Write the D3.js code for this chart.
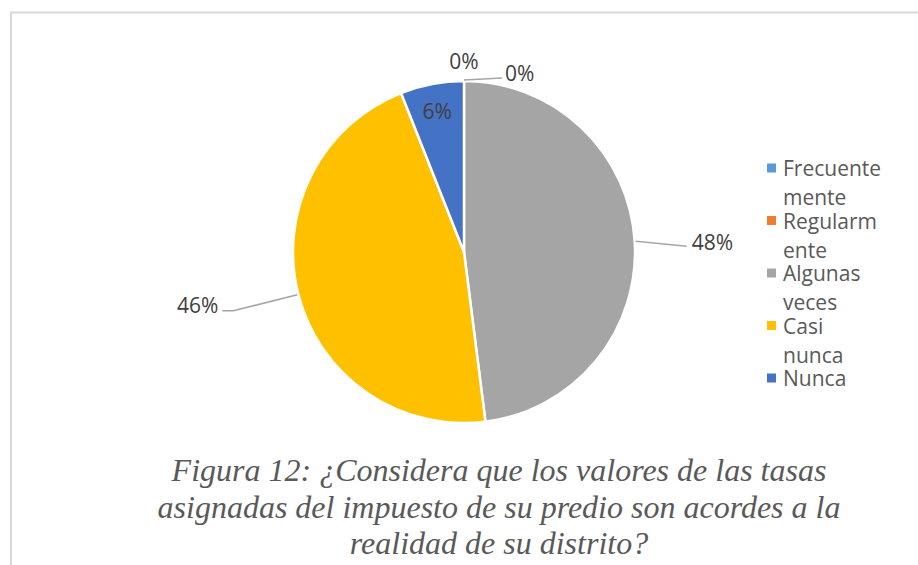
<!DOCTYPE html>
<html lang="es">
<head>
<meta charset="UTF-8">
<title>Figura 12</title>
<script src="https://cdn.jsdelivr.net/npm/d3@7"></script>
<style>
  body { margin: 0; background: #fff; }
</style>
</head>
<body>
<svg id="chart" width="918" height="565" xmlns="http://www.w3.org/2000/svg"></svg>
<script>
// datos
const categorias = ["Frecuentemente", "Regularmente", "Algunas veces", "Casi nunca", "Nunca"];
const valores = [0, 0, 48, 46, 6];
const leyendaLineas = [["Frecuente", "mente"], ["Regularm", "ente"], ["Algunas", "veces"], ["Casi", "nunca"], ["Nunca"]];
const colores = ["#5B9BD5", "#ED7D31", "#A5A5A5", "#FFC000", "#4472C4"];
const titulo = [
  "Figura 12: ¿Considera que los valores de las tasas",
  "asignadas del impuesto de su predio son acordes a la",
  "realidad de su distrito?"
];

const svg = d3.select("#chart");

// marco del gráfico
svg.append("path")
  .attr("d", "M11,565 V12.5 H918")
  .attr("fill", "none")
  .attr("stroke", "#d9d9d9")
  .attr("stroke-width", 2);

const cx = 464, cy = 252, r = 171;
const g = svg.append("g").attr("transform", `translate(${cx},${cy})`);

const pie = d3.pie().sort(null).value(d => d);
const arcs = pie(valores);
const arc = d3.arc().innerRadius(0).outerRadius(r);

g.selectAll("path.slice")
  .data(arcs)
  .enter().append("path")
  .attr("class", "slice")
  .attr("d", arc)
  .attr("fill", (d, i) => colores[i])
  .attr("stroke", "#fff")
  .attr("stroke-width", 2.5);

// etiquetas: desplazamiento del texto respecto al borde de la porción
const total = d3.sum(valores);
const etiquetas = [
  { tipo: "fuera", dx: 0, dy: -19, linea: false, anchor: "middle" },
  { tipo: "fuera", dx: 41, dy: -7, linea: [[0, 0], [38, -2]], anchor: "start" },
  { tipo: "fuera", dx: 56, dy: 1, linea: [[0, 0], [51, 5]], anchor: "start" },
  { tipo: "fuera", dx: -79, dy: 10, linea: [[0, 0], [-64, 16], [-75, 16]], anchor: "end" },
  { tipo: "dentro", rr: 0.84 }
];

const pct = v => Math.round(v / total * 100) + "%";
const fuente = "'Open Sans', sans-serif";

arcs.forEach((a, i) => {
  const e = etiquetas[i];
  const ang = (a.startAngle + a.endAngle) / 2;
  if (e.tipo === "dentro") {
    g.append("text")
      .attr("x", Math.sin(ang) * r * e.rr)
      .attr("y", -Math.cos(ang) * r * e.rr)
      .attr("text-anchor", "middle")
      .attr("dominant-baseline", "central")
      .attr("font-family", fuente)
      .attr("font-size", 21)
      .attr("fill", "#404040")
      .text(pct(a.data));
    return;
  }
  const ex = Math.sin(ang) * (r + 1);
  const ey = -Math.cos(ang) * (r + 1);
  if (e.linea) {
    g.append("path")
      .attr("d", d3.line()(e.linea.map(p => [ex + p[0], ey + p[1]])))
      .attr("fill", "none")
      .attr("stroke", "#a6a6a6")
      .attr("stroke-width", 1.5);
  }
  g.append("text")
    .attr("x", ex + e.dx)
    .attr("y", ey + e.dy)
    .attr("text-anchor", e.anchor)
    .attr("dominant-baseline", "central")
    .attr("font-family", fuente)
    .attr("font-size", 21)
    .attr("fill", "#404040")
    .text(pct(a.data));
});

// leyenda
const leg = svg.append("g").attr("transform", "translate(767,168)");
let ly = 0;
categorias.forEach((c, i) => {
  const item = leg.append("g").attr("transform", `translate(0,${ly})`);
  item.append("rect")
    .attr("x", 0).attr("y", -4.5)
    .attr("width", 9).attr("height", 9)
    .attr("fill", colores[i]);
  leyendaLineas[i].forEach((t, j) => {
    item.append("text")
      .attr("x", 16).attr("y", j * 29)
      .attr("dominant-baseline", "central")
      .attr("font-family", fuente)
      .attr("font-size", 21)
      .attr("fill", "#595959")
      .text(t);
  });
  ly += 52.5;
});

// título
svg.append("g")
  .selectAll("text")
  .data(titulo)
  .enter().append("text")
  .attr("x", 499)
  .attr("y", (d, i) => 481 + i * 36.5)
  .attr("text-anchor", "middle")
  .attr("font-family", "Liberation Serif, Times New Roman, serif")
  .attr("font-style", "italic")
  .attr("font-size", 32)
  .attr("fill", "#595959")
  .text(d => d);
</script>
</body>
</html>
